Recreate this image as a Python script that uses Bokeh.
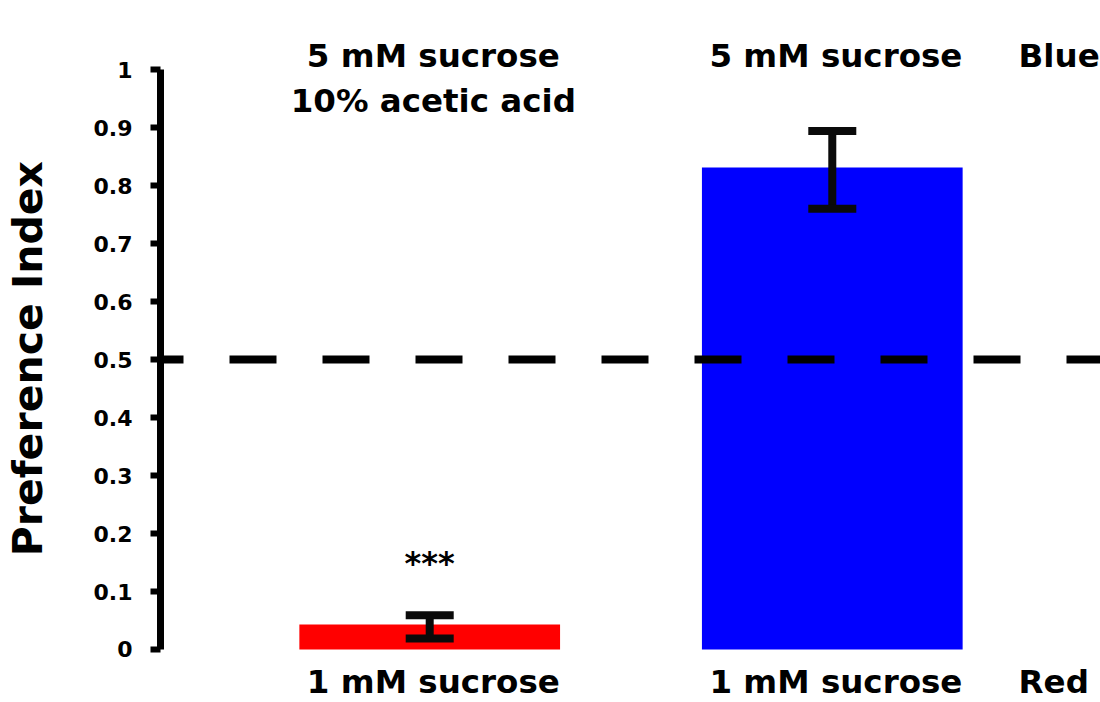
from bokeh.plotting import figure
from bokeh.models import (ColumnDataSource, Span, Whisker, TeeHead, FixedTicker,
                          Range1d)
from bokeh.core.properties import value
from bokeh.embed import file_html
from bokeh.resources import INLINE

# ---- data ----
positions = [1, 2]
pref_index = [0.043, 0.831]
err_lower = [0.019, 0.760]
err_upper = [0.059, 0.894]
bar_colors = ["#ff0000", "#0000ff"]
top_labels = ["5 mM sucrose\n10% acetic acid", "5 mM sucrose"]
bottom_labels = ["1 mM sucrose", "1 mM sucrose"]
side_top = "Blue"
side_bottom = "Red"
signif = ["***", ""]
chance_level = 0.5
y_ticks = [0, 0.1, 0.2, 0.3, 0.4, 0.5, 0.6, 0.7, 0.8, 0.9, 1]
y_tick_labels = ["0", "0.1", "0.2", "0.3", "0.4", "0.5", "0.6", "0.7", "0.8", "0.9", "1"]
y_title = "Preference Index"

FONT = "DejaVu Sans"

W, H = 1100, 702
p = figure(width=W, height=H, output_backend="svg", toolbar_location=None,
           x_range=Range1d(0.33127, 2.66625), y_range=Range1d(-0.09138, 1.11897),
           min_border_left=159, min_border_right=0, min_border_top=0,
           min_border_bottom=0, outline_line_color=None)
p.xaxis.visible = False
p.xgrid.visible = False
p.ygrid.visible = False
p.background_fill_color = "white"
p.border_fill_color = "white"

yax = p.yaxis[0]
yax.ticker = FixedTicker(ticks=y_ticks)
yax.major_label_overrides = {t: l for t, l in zip(y_ticks, y_tick_labels)}
yax.bounds = (0, 1)
yax.axis_line_width = 7
yax.axis_line_color = "black"
yax.major_tick_line_width = 6
yax.major_tick_line_color = "black"
yax.major_tick_out = 10
yax.major_tick_in = 0
yax.minor_tick_out = 0
yax.minor_tick_in = 0
yax.major_label_standoff = 18
yax.major_label_text_font = FONT
yax.major_label_text_font_style = "bold"
yax.major_label_text_font_size = "22px"
yax.major_label_text_color = "black"
yax.axis_label = y_title + "\u00a0"
yax.axis_label_text_font = FONT
yax.axis_label_text_font_style = "bold"
yax.axis_label_text_font_size = "41px"
yax.axis_label_text_color = "black"
yax.axis_label_standoff = 39

src = ColumnDataSource(dict(x=positions, top=pref_index, lower=err_lower,
                            upper=err_upper, color=bar_colors))
p.vbar(x="x", top="top", bottom=0, width=0.6476, fill_color="color",
       line_color=None, source=src)

wh = Whisker(source=src, base="x", upper="upper", lower="lower",
             line_width=8, line_color="#0a0a0a", level="overlay",
             upper_head=TeeHead(size=48, line_width=8, line_color="#0a0a0a"),
             lower_head=TeeHead(size=48, line_width=8, line_color="#0a0a0a"))
p.add_layout(wh)

p.add_layout(Span(location=chance_level, dimension="width", line_width=8,
                  line_color="black", line_dash="47 46", line_dash_offset=24))

# top labels (multi-line via separate rows)
tl_x, tl_y, tl_t = [], [], []
for xpos, lab in zip(positions, top_labels):
    for i, line in enumerate(lab.split("\n")):
        tl_x.append(xpos + 0.009)
        tl_y.append(1.0241 - i * 0.0776)
        tl_t.append(line)
p.text(x=tl_x, y=tl_y, text=tl_t, text_font=value(FONT), text_font_style="bold",
       text_font_size="32.5px", text_align="center", text_baseline="alphabetic",
       text_color="black")

p.text(x=[p_ + 0.009 for p_ in positions], y=[-0.0552] * len(positions),
       text=bottom_labels, text_font=value(FONT), text_font_style="bold",
       text_font_size="32.5px", text_align="center", text_baseline="alphabetic",
       text_color="black")

p.text(x=[2.4628, 2.4628], y=[1.0241, -0.0552], text=[side_top, side_bottom],
       text_font=value(FONT), text_font_style="bold", text_font_size="32.5px",
       text_align="left", text_baseline="alphabetic", text_color="black")

p.text(x=positions, y=[0.15, 0.0], text=signif, text_font=value(FONT),
       text_font_style="bold", text_font_size="32px", text_align="center",
       text_baseline="alphabetic", text_color="black")

open("out.html", "w").write(file_html(p, INLINE))
